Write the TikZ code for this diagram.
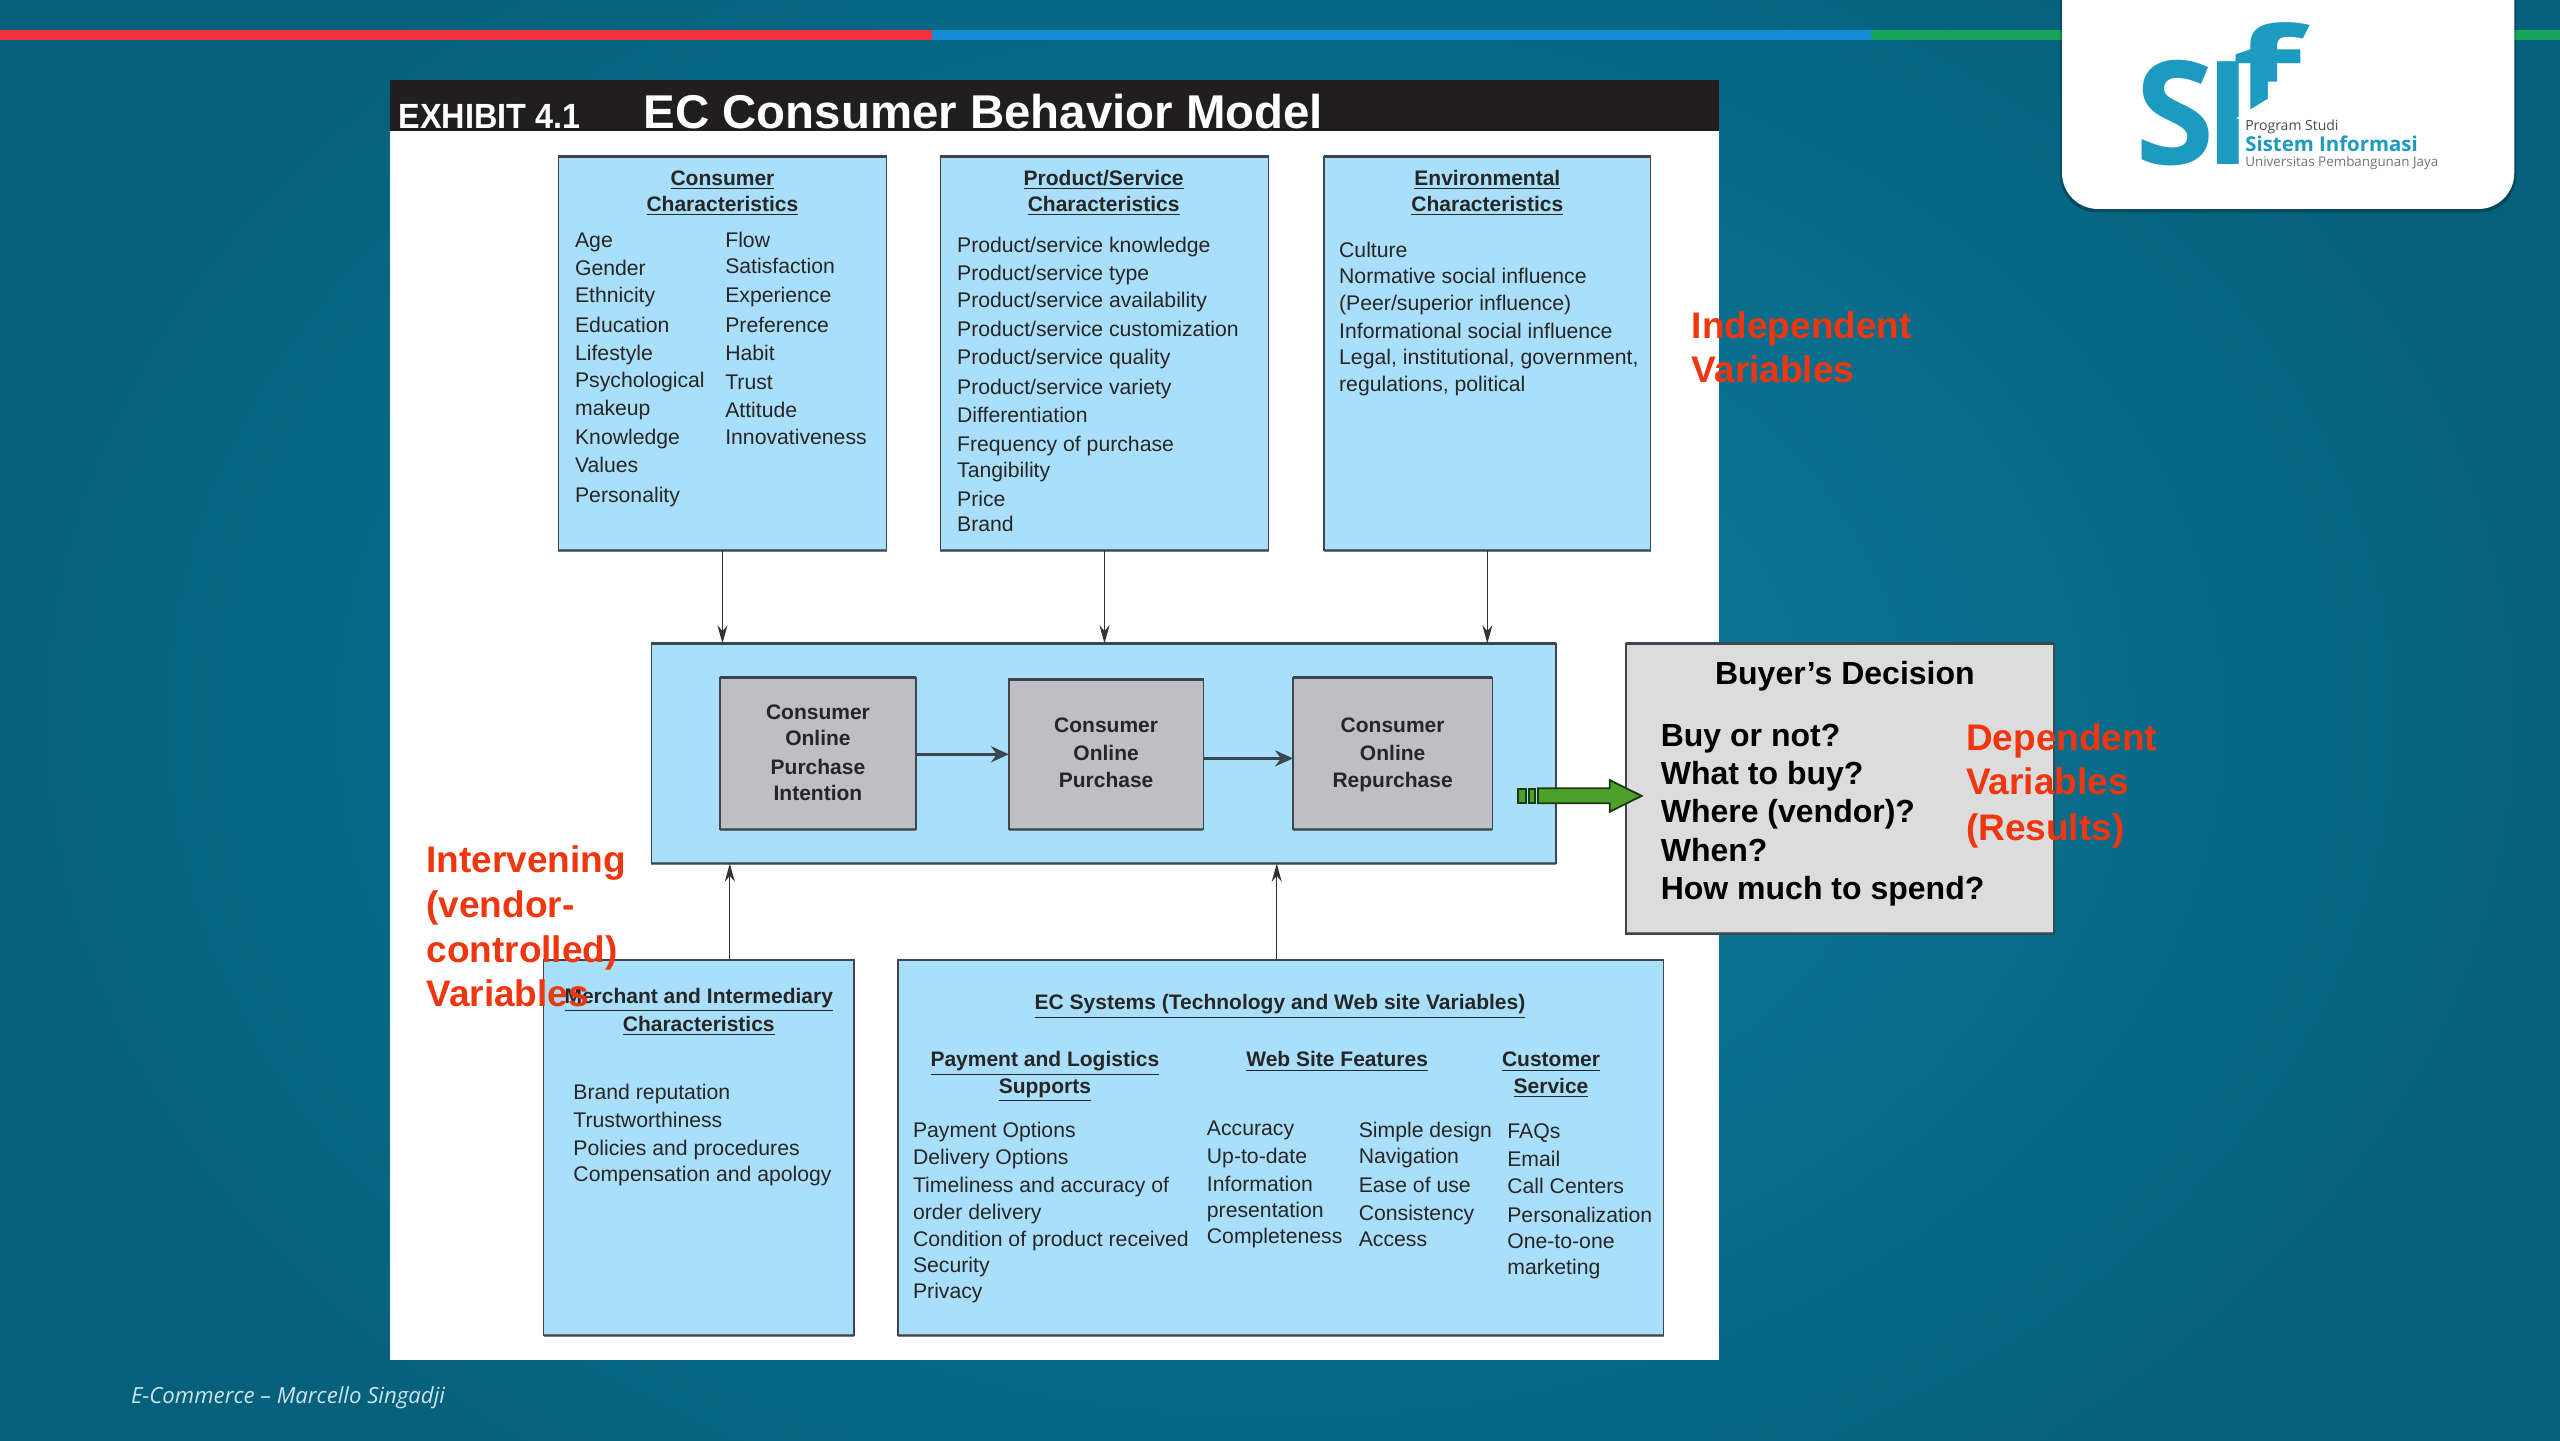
\documentclass[tikz,border=0pt]{standalone}
\usepackage{fontspec}
\usepackage{graphicx}
\setmainfont{Liberation Sans}
\newfontfamily\opensans{Open Sans}
\usetikzlibrary{arrows.meta,calc}
\definecolor{boxblue}{HTML}{A9DFFA}
\definecolor{boxline}{HTML}{3C4650}
\definecolor{grayfill}{HTML}{BEBEC3}
\definecolor{lightgrayfill}{HTML}{DCDCDC}
\definecolor{redlabel}{HTML}{F0360F}
\definecolor{logoblue}{HTML}{1C9ABF}
\definecolor{arrowgreen}{HTML}{4CA02C}
\newcounter{tcnt}
\newcommand{\boxn}[6]{\node[#2,anchor=north west,minimum width={(#5-#3)*0.8163pt},minimum height={(#6-#4)*0.8163pt}] (#1) at (#3,#4) {};
  \draw[edgeline] (#1.north west) -- (#1.north east);
  \draw[edgeline,draw opacity=.7] (#1.south west) -- (#1.south east);}
\newcommand{\lft}[4][stext]{\stepcounter{tcnt}\node[#1,anchor=base west] (t\arabic{tcnt}) at (#2,{#3+4.5}) {#4};}
\newcommand{\ctr}[4][stext]{\stepcounter{tcnt}\node[#1,anchor=base] (t\arabic{tcnt}) at (#2,{#3+4.5}) {#4};}
\newcommand{\hd}[3]{\ctr[btext]{#1}{#2}{\underline{#3}}}
\tikzset{
  panel/.style={draw=boxline,line width=0.7pt,fill=boxblue,inner sep=0pt,outer sep=0pt},
  graybox/.style={draw=boxline,line width=0.7pt,fill=grayfill,inner sep=0pt,outer sep=0pt},
  decisionbox/.style={draw=boxline,line width=0.7pt,fill=lightgrayfill,inner sep=0pt,outer sep=0pt},
  edgeline/.style={draw=boxline,line width=1.4pt},
  stext/.style={inner sep=0pt,font=\fontsize{10.6}{12}\selectfont,text=black!85},
  btext/.style={inner sep=0pt,font=\fontsize{10.5}{12}\selectfont\bfseries,text=black!85},
  dtext/.style={inner sep=0pt,font=\fontsize{16}{18}\selectfont\bfseries,text=black},
  rlabel/.style={inner sep=0pt,font=\fontsize{18.5}{20}\selectfont\bfseries,text=redlabel},
  thinarrow/.style={draw=black!80,line width=0.6pt,-{Stealth[length=9pt,width=5pt]}},
  flowarrow/.style={draw=boxline,line width=1.5pt,-{Stealth[length=9pt,width=8pt]}},
  bigarrow/.style={draw=black!65!arrowgreen,line width=0.9pt,fill=arrowgreen,line join=miter},
}
\begin{document}
\begin{tikzpicture}[x=0.8163pt,y=-0.8163pt]
\useasboundingbox (0,0) rectangle (1568,882);
\clip (0,0) rectangle (1568,882);
% background
\fill[color={rgb,255:red,5;green,96;blue,124}] (0,0) rectangle (1568,882);
\shade[inner color={rgb,255:red,14;green,126;blue,160},outer color={rgb,255:red,5;green,96;blue,124}] (-16,-150) rectangle (1584,1032);
% top bar
\fill[color={rgb,255:red,240;green,50;blue,60}] (0,18.4) rectangle (571,24.5);
\fill[color={rgb,255:red,20;green,140;blue,214}] (571,18.4) rectangle (1146,24.5);
\fill[color={rgb,255:red,24;green,165;blue,90}] (1146,18.4) rectangle (1568,24.5);
% logo card
\fill[black,opacity=.25,rounded corners=18pt] (1262,-40) rectangle (1541,130);
\fill[white,rounded corners=18pt] (1263,-40) rectangle (1540,128);
\node[anchor=base west,inner sep=0pt,text=logoblue,font=\opensans\fontsize{72}{72}\selectfont\bfseries] (logoS) at (1308,101) {S};
\node[anchor=base west,inner sep=0pt,text=logoblue,font=\opensans\fontsize{72}{72}\selectfont\bfseries] (logoI) at (1350,101) {I};
\node[anchor=base west,inner sep=0pt,text=logoblue,font=\opensans\fontsize{62}{62}\selectfont\bfseries] (logoF) at (1367,72) {\scalebox{1.45}[1]{f}};
\fill[white] (1369.5,72.5) -- (1389,60.5) -- (1389,50) -- (1404,50) -- (1404,76) -- cycle;
\node[anchor=base west,inner sep=0pt,text=black!70,font=\opensans\fontsize{7}{8}\selectfont] (logoA) at (1375,80) {Program Studi};
\node[anchor=base west,inner sep=0pt,text=logoblue,font=\opensans\fontsize{10.2}{12}\selectfont\bfseries] (logoB) at (1375,93) {Sistem Informasi};
\node[anchor=base west,inner sep=0pt,text=black!55,font=\opensans\fontsize{6.7}{8}\selectfont] (logoC) at (1375,102) {Universitas Pembangunan Jaya};
% exhibit panel
\fill[white] (239,49) rectangle (1053,833);
\fill[color={rgb,255:red,32;green,30;blue,30}] (239,49) rectangle (1053,80);
\node[anchor=base west,inner sep=0pt,text=white,font=\fontsize{17.5}{18}\selectfont\bfseries] (exh) at (244,79) {\scalebox{.925}[1]{EXHIBIT 4.1}};
\node[anchor=base west,inner sep=0pt,text=white,font=\fontsize{23.7}{26}\selectfont\bfseries] (ttl) at (394,78.5) {EC Consumer Behavior Model};
% boxes
\boxn{cons}{panel}{342}{96}{543}{337}
\boxn{prod}{panel}{576}{96}{777}{337}
\boxn{envi}{panel}{811}{96}{1011}{337}
\boxn{mid}{panel}{399}{394}{953}{529}
\boxn{g1}{graybox}{441}{415}{561}{508}
\boxn{g2}{graybox}{618}{416}{737}{508}
\boxn{g3}{graybox}{792}{415}{914}{508}
\boxn{buyer}{decisionbox}{996}{394}{1258}{572}
\boxn{merch}{panel}{333}{588}{523}{818}
\boxn{ecs}{panel}{550}{588}{1019}{818}
% connectors
\coordinate (upA) at (447,588);
\coordinate (upB) at (782,588);
\draw[thinarrow] (cons.south) -- (cons.south |- mid.north);
\draw[thinarrow] (prod.south) -- (prod.south |- mid.north);
\draw[thinarrow] (envi.south) -- (envi.south |- mid.north);
\draw[thinarrow] (upA) -- (upA |- mid.south);
\draw[thinarrow] (upB) -- (upB |- mid.south);
\draw[flowarrow] (g1.east |- 0,462) -- (g2.west |- 0,462);
\draw[flowarrow] (g2.east |- 0,464.5) -- (g3.west |- 0,464.5);
% green arrow
\draw[bigarrow] (942,482.8) -- (986,482.8) -- (986,477.8) -- (1005.5,487.5) -- (986,497.2) -- (986,492) -- (942,492) -- cycle;
\draw[bigarrow] (930,483.2) rectangle (934.5,491.8);
\draw[bigarrow] (936.5,483.2) rectangle (940,491.8);
% consumer characteristics
\hd{442.5}{109}{Consumer}
\hd{442.5}{125}{Characteristics}
\lft{352}{147}{Age}\lft{352}{164}{Gender}\lft{352}{181}{Ethnicity}\lft{352}{199}{Education}\lft{352}{216}{Lifestyle}\lft{352}{233}{Psychological}\lft{352}{250}{makeup}\lft{352}{268}{Knowledge}\lft{352}{285}{Values}\lft{352}{303}{Personality}
\lft{444}{147}{Flow}\lft{444}{163}{Satisfaction}\lft{444}{181}{Experience}\lft{444}{199}{Preference}\lft{444}{216}{Habit}\lft{444}{234}{Trust}\lft{444}{251}{Attitude}\lft{444}{268}{Innovativeness}
% product
\hd{676}{109}{Product/Service}
\hd{676}{125}{Characteristics}
\lft{586}{150}{Product/service knowledge}\lft{586}{167.5}{Product/service type}\lft{586}{184}{Product/service availability}\lft{586}{201.5}{Product/service customization}\lft{586}{219}{Product/service quality}\lft{586}{237}{Product/service variety}\lft{586}{254.5}{Differentiation}\lft{586}{272}{Frequency of purchase}\lft{586}{288}{Tangibility}\lft{586}{306}{Price}\lft{586}{321}{Brand}
% environmental
\hd{911}{109}{Environmental}
\hd{911}{125}{Characteristics}
\lft{820}{153}{Culture}\lft{820}{169}{Normative social influence}\lft{820}{185.5}{(Peer/superior influence)}\lft{820}{203}{Informational social influence}\lft{820}{219}{Legal, institutional, government,}\lft{820}{235.5}{regulations, political}
% gray boxes
\ctr[btext]{501}{436}{Consumer}\ctr[btext]{501}{452}{Online}\ctr[btext]{501}{470}{Purchase}\ctr[btext]{501}{486}{Intention}
\ctr[btext]{677.5}{444}{Consumer}\ctr[btext]{677.5}{461.5}{Online}\ctr[btext]{677.5}{478}{Purchase}
\ctr[btext]{853}{444}{Consumer}\ctr[btext]{853}{461.5}{Online}\ctr[btext]{853}{478}{Repurchase}
% merchant
\hd{428}{610}{Merchant and Intermediary}
\hd{428}{627}{Characteristics}
\lft{351}{669}{Brand reputation}\lft{351}{686}{Trustworthiness}\lft{351}{703}{Policies and procedures}\lft{351}{719}{Compensation and apology}
% EC systems
\hd{784}{614}{EC Systems (Technology and Web site Variables)}
\hd{640}{649}{Payment and Logistics}\hd{640}{665}{Supports}
\hd{819}{649}{Web Site Features}
\hd{950}{649}{Customer}\hd{950}{665}{Service}
\lft{559}{692}{Payment Options}\lft{559}{708.5}{Delivery Options}\lft{559}{726}{Timeliness and accuracy of}\lft{559}{742.5}{order delivery}\lft{559}{759}{Condition of product received}\lft{559}{775}{Security}\lft{559}{791}{Privacy}
\lft{739}{691}{Accuracy}\lft{739}{708}{Up-to-date}\lft{739}{725}{Information}\lft{739}{741}{presentation}\lft{739}{757}{Completeness}
\lft{832}{692}{Simple design}\lft{832}{708}{Navigation}\lft{832}{726}{Ease of use}\lft{832}{743}{Consistency}\lft{832}{759}{Access}
\lft{923}{693}{FAQs}\lft{923}{710}{Email}\lft{923}{726.5}{Call Centers}\lft{923}{744}{Personalization}\lft{923}{760}{One-to-one}\lft{923}{776}{marketing}
% buyer's decision
\ctr[dtext]{1130}{414.5}{Buyer's Decision}
\lft[dtext]{1017}{452.5}{Buy or not?}\lft[dtext]{1017}{476}{What to buy?}\lft[dtext]{1017}{499.5}{Where (vendor)?}\lft[dtext]{1017}{523}{When?}\lft[dtext]{1017}{546.5}{How much to spend?}
% red labels
\lft[rlabel]{1036}{203}{Independent}\lft[rlabel]{1036}{230}{Variables}
\lft[rlabel]{1204}{455}{Dependent}\lft[rlabel]{1204}{482}{Variables}\lft[rlabel]{1204}{510}{(Results)}
\lft[rlabel]{261}{530}{Intervening}\lft[rlabel]{261}{557.5}{(vendor-}\lft[rlabel]{261}{585}{controlled)}\lft[rlabel]{261}{612}{Variables}
% footer
\node[anchor=base west,inner sep=0pt,text={rgb,255:red,205;green,228;blue,235},font=\opensans\fontsize{11.1}{12}\selectfont\itshape] (foot) at (80,859.5) {E-Commerce – Marcello Singadji};
\end{tikzpicture}
\end{document}
